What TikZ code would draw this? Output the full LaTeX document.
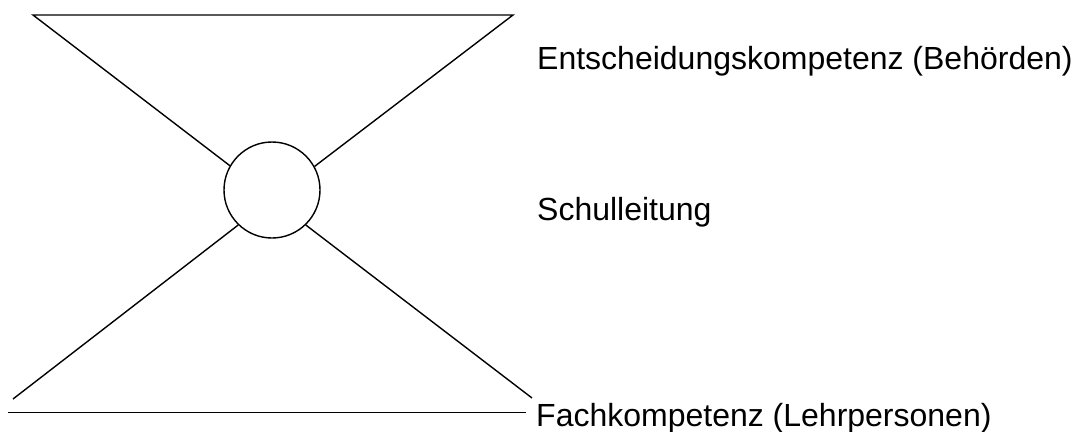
\documentclass[tikz,border=0pt]{standalone}
\usepackage{fontspec}
\setmainfont{Liberation Sans}
\begin{document}
\begin{tikzpicture}[x=1pt, y=-1pt,
  edge/.style={line width=1.4pt, line join=miter},
  label/.style={font=\fontsize{32}{38}\selectfont, inner sep=0pt, anchor=base west}]
\useasboundingbox (0,0) rectangle (1078,431);

% central circle
\node[draw, line width=1.4pt, circle, minimum size=96pt, inner sep=0pt] (sl) at (272,190) {};

% corner points of the two triangles
\coordinate (tl) at (33,15);
\coordinate (tr) at (513,15);
\coordinate (bl) at (13,399);
\coordinate (br) at (532,398);
\coordinate (bs) at (8,412.7);
\coordinate (be) at (526,412.7);

% labels
\node[label] (top) at (537,69) {Entscheidungskompetenz (Behörden)};
\node[label] (mid) at (537,220) {Schulleitung};
\node[label] (bot) at (536,426) {Fachkompetenz (Lehrpersonen)};

% upper triangle
\draw[edge] (sl.150) -- (tl) -- (tr) -- (sl.29);
% lower triangle legs
\draw[edge] (sl.226) -- (bl);
\draw[edge] (sl.314) -- (br);
% base line
\draw[edge] (bs) -- (be);
\end{tikzpicture}
\end{document}
